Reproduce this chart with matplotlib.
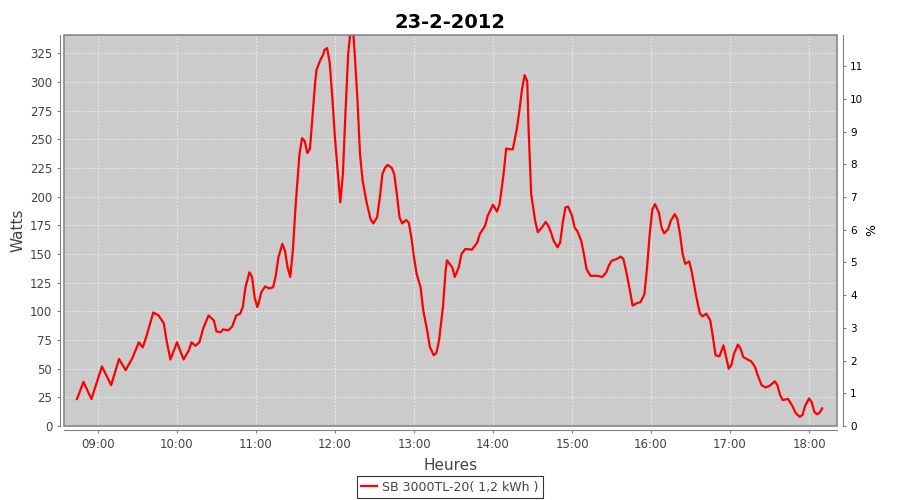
import matplotlib
matplotlib.use("Agg")
import matplotlib.pyplot as plt
from matplotlib.patches import Rectangle
import numpy as np

# --- DATA ---
TITLE = "23-2-2012"
SERIES_LABEL = "SB 3000TL-20( 1,2 kWh )"

times = [
    "08:44", "08:49", "08:55", "09:03", "09:10", "09:16", "09:21", "09:26", "09:31", "09:34",
    "09:37", "09:42", "09:46", "09:50", "09:52", "09:55", "10:00", "10:05", "10:09", "10:11",
    "10:14", "10:17", "10:20", "10:24", "10:28", "10:30", "10:33", "10:35", "10:39", "10:42",
    "10:45", "10:48", "10:50", "10:52", "10:55", "10:57", "10:59", "11:01", "11:02", "11:04",
    "11:07", "11:10", "11:13", "11:15", "11:17", "11:20", "11:22", "11:24", "11:26", "11:28",
    "11:30", "11:33", "11:35", "11:37", "11:39", "11:41", "11:43", "11:45", "11:46", "11:49",
    "11:51", "11:52", "11:54", "11:56", "11:58", "12:00", "12:02", "12:04", "12:06", "12:08",
    "12:10", "12:12", "12:14", "12:15", "12:17", "12:19", "12:21", "12:24", "12:27", "12:29",
    "12:32", "12:34", "12:36", "12:38", "12:40", "12:43", "12:45", "12:47", "12:49", "12:51",
    "12:54", "12:56", "12:58", "13:00", "13:02", "13:05", "13:07", "13:10", "13:12", "13:15",
    "13:17", "13:19", "13:22", "13:24", "13:25", "13:29", "13:31", "13:34", "13:36", "13:39",
    "13:44", "13:48", "13:50", "13:54", "13:56", "14:00", "14:03", "14:05", "14:08", "14:10",
    "14:13", "14:15", "14:18", "14:20", "14:22", "14:24", "14:26", "14:27", "14:29", "14:32",
    "14:34", "14:37", "14:40", "14:42", "14:44", "14:46", "14:49", "14:51", "14:53", "14:55",
    "14:57", "15:00", "15:02", "15:04", "15:07", "15:09", "15:11", "15:14", "15:19", "15:23",
    "15:26", "15:28", "15:30", "15:34", "15:37", "15:39", "15:41", "15:44", "15:46", "15:49",
    "15:52", "15:55", "15:57", "15:59", "16:01", "16:03", "16:06", "16:08", "16:10", "16:13",
    "16:15", "16:18", "16:20", "16:22", "16:24", "16:26", "16:29", "16:31", "16:34", "16:37",
    "16:39", "16:42", "16:45", "16:47", "16:49", "16:52", "16:55", "16:57", "16:59", "17:01",
    "17:03", "17:06", "17:08", "17:10", "17:13", "17:16", "17:19", "17:21", "17:24", "17:27",
    "17:30", "17:34", "17:36", "17:38", "17:40", "17:44", "17:47", "17:50", "17:53", "17:55",
    "17:57", "18:00", "18:02", "18:04", "18:06", "18:08", "18:10",
]

watts = [
    23.5, 38.5, 23.5, 52, 35.6, 58.5, 48.7, 59, 73, 68.5,
    79, 99, 96.5, 89.5, 75, 58, 73, 58, 66, 73,
    70, 73, 85.4, 96.4, 92, 82.5, 81.7, 84.3, 83.4, 86.9,
    96.4, 98, 104, 121, 134, 130, 112, 103.7, 107, 116.7,
    121.7, 120, 121, 131, 147, 158.8, 153, 138.4, 130, 153,
    190.6, 237, 251, 248.5, 238, 242, 271.7, 300.7, 310.8, 319.5,
    324, 328, 329.6, 316.6, 286, 251, 222.5, 195, 219.6, 274.6,
    324, 348, 341, 324, 286, 237, 213.8, 195, 180.5, 176.7,
    182, 199, 219.6, 225.3, 227.7, 225.3, 219.6, 202, 182, 176.7,
    179.6, 177.5, 164.5, 147, 132.7, 121, 100.8, 83.4, 69, 61.7,
    63.7, 74.7, 103.7, 135.6, 144.5, 138.4, 130, 138.4, 150, 154.4,
    153.8, 160, 167.5, 174.7, 183.4, 193, 187, 193.5, 219.6, 242,
    241.3, 241.3, 258.7, 274.6, 293.5, 306, 300.7, 260, 202, 179,
    169, 173, 178, 174.7, 169, 161.6, 155.8, 160, 177.5, 190.6,
    191.4, 183.4, 173, 170, 161.6, 150, 137, 131, 131, 130,
    134, 140, 144, 145.7, 147.7, 145.7, 135.6, 118, 105, 107,
    108, 115, 138.4, 167.5, 189, 193.5, 186, 173, 168, 171.8,
    179, 184.8, 180.5, 167.5, 150, 141.4, 143.6, 134, 115, 98.5,
    95.6, 98, 92, 77.6, 61.7, 60.8, 70.4, 60.2, 50, 53,
    63, 71, 67.5, 60.2, 58.2, 56.5, 51.5, 44.3, 35.6, 33.6,
    35, 39, 35.6, 27, 22.6, 23.7, 18.2, 11, 8, 9.6,
    17.4, 24, 21, 12.4, 10.2, 11.6, 15.4,
]

hour_ticks = list(range(9, 19))
watt_ticks = list(range(0, 326, 25))
pct_ticks = list(range(0, 12))

# --- CONVERT ---
hours = np.array([int(t[:2]) + int(t[3:]) / 60 for t in times])

# --- PLOT ---
fig = plt.figure(figsize=(9, 5), dpi=100)
ax = fig.add_axes([64 / 900, 74 / 500, (837 - 64) / 900, (426 - 35) / 500])
ax.set_facecolor("#cbcbcb")

ax.plot(hours, watts, color="#ff0000", lw=1.6, label=SERIES_LABEL, zorder=3)

ax.set_xlim(8.57, 18.354)
ax.set_ylim(0, 341)
ax.set_xticks(hour_ticks)
ax.set_xticklabels([f"{h:02d}:00" for h in hour_ticks])
ax.set_yticks(watt_ticks)

ax.grid(True, color="#f2f2f2", linestyle=(0, (2, 2)), linewidth=0.6, zorder=1)
ax.set_axisbelow(True)

# axis lines sit a few pixels outside the plot area, like JFreeChart
for side in ["left", "bottom"]:
    ax.spines[side].set_position(("outward", 3))
    ax.spines[side].set_color("#808080")
for side in ["top", "right"]:
    ax.spines[side].set_visible(False)
ax.add_patch(Rectangle((0, 0), 1, 1, transform=ax.transAxes, fill=False,
                       edgecolor="#808080", lw=1.1, clip_on=False, zorder=4))

ax.tick_params(axis="both", colors="#808080", length=2, labelcolor="#444444", labelsize=8.5)

ax.set_ylabel("Watts", fontsize=11, color="#444444", labelpad=3)
ax.set_xlabel("Heures", fontsize=11, color="#444444", labelpad=5)

# right axis (%)
ax2 = ax.twinx()
ax2.set_ylim(0, 11.95)
ax2.set_yticks(pct_ticks)
for side in ["left", "top", "bottom"]:
    ax2.spines[side].set_visible(False)
ax2.spines["right"].set_position(("outward", 4))
ax2.spines["right"].set_color("#808080")
ax2.tick_params(axis="y", colors="#808080", length=2, labelcolor="black", labelsize=7.5)
ax2.set_ylabel("%", fontsize=9, color="black", rotation=-90, labelpad=8)

fig.suptitle(TITLE, fontsize=14, fontweight="bold", y=0.975)

leg = fig.legend(loc="center", bbox_to_anchor=(0.5, 0.026), fontsize=9,
                 frameon=True, fancybox=False, handlelength=1.3, handletextpad=0.4,
                 borderpad=0.35, edgecolor="black")
leg.get_frame().set_linewidth(0.8)
for t in leg.get_texts():
    t.set_color("#444444")

fig.savefig("out.png", dpi=100)
